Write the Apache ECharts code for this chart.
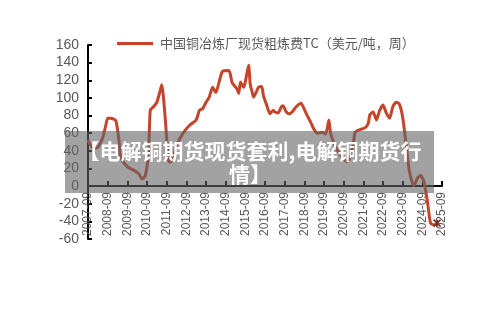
<!DOCTYPE html>
<html>
<head>
<meta charset="utf-8">
<script src="https://cdn.jsdelivr.net/npm/echarts@6/dist/echarts.min.js"></script>
<style>
html,body{margin:0;padding:0;background:#fff;}
#c{width:500px;height:326px;}
</style>
</head>
<body>
<div id="c"></div>
<script>
// months since 2007-09
var months = [0,3,6,9,11,12,14,17,19,20,24,28,31,33,35,37,38,40,42,44,45,47,49,50,52,54,58,62,66,68,70,72,74,76,78,80,82,86,88,91,92,93,95,96,98,99,100,101,103,104,106,107,109,111,113,114,116,118,119,121,123,125,127,130,132,134,136,138,140,143,145,147,148,150,152,155,158,160,162,163,166,169,171,172,174,176,178,180,182,184,186,188,190,192,194,196,198,199,201,203,205,207,209,211,213];
var values = [52,43,44,55,70,77,77,74,50,32,22,18,14,8,12,40,86,90,95,108,115,80,30,27,33,46,60,69,75,86,88,95,101,112,106,118,130,131,117,110,105,118,112,118,137,115,108,101,108,112,113,103,92,82,86,84,83,90,91,84,82,85,90,94,87,79,72,64,60,61,59,75,60,49,41,33,28,33,49,61,64,66,71,81,84,75,86,92,83,77,90,95,93,78,49,18,3,1,9,12,5,-16,-42,-44,-42];
var yTicks = {min:-60, max:160, step:20};
var startYear = 2007;
var seriesName = '中国铜冶炼厂现货粗炼费TC（美元/吨，周）';
var bannerText = '【电解铜期货现货套利,电解铜期货行\n情】';

var data = months.map(function(m,i){return [m, values[i]];});
var last = data[data.length-1];
var gridTop = 45, gridBottom = 87, H = 326;
var plotH = H - gridTop - gridBottom;
var zeroOffset = -Math.round(plotH * (0 - yTicks.min) / (yTicks.max - yTicks.min));
var chart = echarts.init(document.getElementById('c'));
chart.setOption({
  animation:false,
  grid:{left:88,right:58,top:gridTop,bottom:gridBottom},
  legend:{
    left:117, top:37, padding:0,
    icon:'rect', itemWidth:36, itemHeight:3,
    textStyle:{fontFamily:'Noto Sans CJK SC', fontSize:13, color:'#595959', padding:[0,0,0,2]},
    data:[seriesName]
  },
  xAxis:{
    type:'value', min:0, max:216, interval:12, offset:zeroOffset,
    axisLine:{onZero:false, lineStyle:{color:'#000', width:2}},
    axisTick:{inside:true, length:5, lineStyle:{color:'#000', width:2}},
    splitLine:{show:false},
    axisLabel:{
      rotate:90, margin:6, fontSize:12, color:'#595959', fontFamily:'Liberation Sans',
      formatter:function(v){return (startYear + v/12) + '-09';}
    }
  },
  yAxis:{
    type:'value', min:yTicks.min, max:yTicks.max, interval:yTicks.step,
    axisLine:{show:true, onZero:false, lineStyle:{color:'#000', width:2}},
    axisTick:{show:true, inside:true, length:4, lineStyle:{color:'#000', width:2}},
    splitLine:{show:false},
    axisLabel:{fontSize:14, color:'#595959', margin:9, fontFamily:'Liberation Sans'}
  },
  series:[{
    name:seriesName, type:'line', data:data, showSymbol:false, symbol:'none',
    smooth:0.2,
    lineStyle:{color:'#c4452a', width:3},
    itemStyle:{color:'#c4452a'},
    markPoint:{
      symbol:'path://M0,0 L10,10 M10,0 L0,10 M5,0 L5,10',
      symbolSize:7, label:{show:false},
      itemStyle:{color:'none', borderColor:'#7a2a18', borderWidth:1.5},
      data:[{coord:last}]
    }
  }],
  graphic:[
    {type:'rect', left:65, top:131, shape:{width:369, height:62}, style:{fill:'rgba(100,100,100,0.6)'}, z:100},
    {type:'text', x:250, y:140, z:101, style:{text:bannerText, fill:'#fff', font:'bold 21px "Noto Sans CJK SC"', align:'center', textAlign:'center', lineHeight:23}}
  ]
});
</script>
</body>
</html>
